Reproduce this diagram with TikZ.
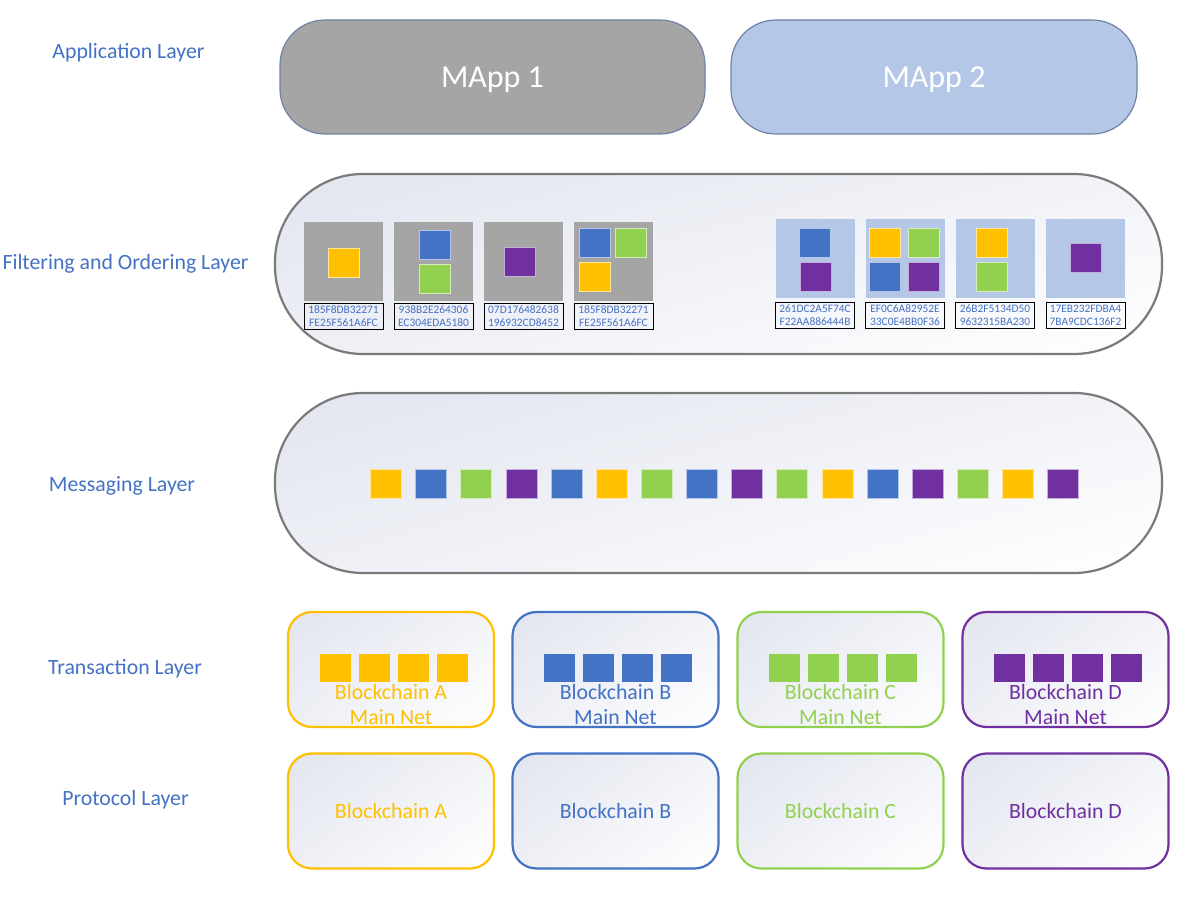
\documentclass[tikz,border=0pt]{standalone}
\usepackage{fontspec}
\setmainfont{Carlito}
\usetikzlibrary{shadings}
\definecolor{orng}{HTML}{FFC000}
\definecolor{blu}{HTML}{4472C4}
\definecolor{grn}{HTML}{92D050}
\definecolor{purp}{HTML}{7030A0}
\definecolor{gbox}{HTML}{A5A5A5}
\definecolor{lbox}{HTML}{B4C7E7}
\definecolor{pillc}{HTML}{7A7A7A}
\definecolor{mappc}{HTML}{7083A6}
\definecolor{shadec}{HTML}{E2E5EF}
\definecolor{lbl}{HTML}{4472C4}
\tikzset{
  layerlabel/.style={text=lbl, font=\fontsize{21.8}{26}\selectfont, inner sep=0pt},
  mapp/.style={draw=mappc, line width=1.2pt, rounded corners=45pt, minimum width=425pt, minimum height=114pt, text=white, font=\fontsize{32}{36}\selectfont, text height=21pt, text depth=0pt},
  softshade/.style={upper left=shadec, lower left=shadec!60!white, upper right=shadec!45!white, lower right=white},
  pill/.style={draw=pillc, line width=2.2pt, rounded corners=88pt, softshade},
  chainbox/.style={line width=2.2pt, rounded corners=24pt, minimum width=206pt, minimum height=115pt, softshade},
  fbox/.style={minimum width=79pt, minimum height=79pt, inner sep=0pt},
  sq/.style={minimum width=31pt, minimum height=29pt, inner sep=0pt, draw=white!60!#1, line width=0.6pt, fill=#1},
  tsq/.style={minimum width=31pt, minimum height=28pt, inner sep=0pt, fill=#1},
  hashbox/.style={draw=black, line width=0.9pt, minimum width=79pt, minimum height=26pt, inner sep=0pt, text=blu, align=center, font=\fontsize{11.4}{13}\selectfont},
  chaintext/.style={text=#1, align=center, font=\fontsize{21.8}{25}\selectfont, inner sep=0pt}
}
\begin{document}
\begin{tikzpicture}[x=1pt,y=-1pt]
\useasboundingbox[fill=white] (0,0) rectangle (1200,901);
% left labels
\node[layerlabel] (lapp) at (128.5,52.5) {Application Layer};
\node[layerlabel] (lfil) at (125.5,263.5) {Filtering and Ordering Layer};
\node[layerlabel] (lmsg) at (122,485.5) {Messaging Layer};
\node[layerlabel] (ltx) at (125,668.5) {Transaction Layer};
\node[layerlabel] (lpro) at (125.5,799.5) {Protocol Layer};
% application layer
\node[mapp, fill=gbox] (mapp1) at (492.5,77) {MApp 1};
\node[mapp, fill=lbox, minimum width=406pt] (mapp2) at (934,77) {MApp 2};
% filtering layer
\path[pill] (275,174) rectangle (1162,354);
\node[fbox, fill=gbox] (f1) at (343.5,262) {};
\node[fbox, fill=gbox] (f2) at (433.5,262) {};
\node[fbox, fill=gbox] (f3) at (523.5,262) {};
\node[fbox, fill=gbox] (f4) at (613.5,262) {};
\node[fbox, fill=lbox] (f5) at (815,258.5) {};
\node[fbox, fill=lbox] (f6) at (905,258.5) {};
\node[fbox, fill=lbox] (f7) at (995,258.5) {};
\node[fbox, fill=lbox] (f8) at (1085.5,258.5) {};
\node[sq=orng] (f1a) at (343.5,263) {};
\node[sq=blu] (f2a) at (434.5,245) {};
\node[sq=grn] (f2b) at (434.5,278.5) {};
\node[sq=purp] (f3a) at (520,262) {};
\node[sq=blu] (f4a) at (595,242.5) {};
\node[sq=grn] (f4b) at (631,242.5) {};
\node[sq=orng] (f4c) at (595,276.5) {};
\node[sq=blu] (f5a) at (815,243) {};
\node[sq=purp] (f5b) at (815.5,277) {};
\node[sq=orng] (f6a) at (884.5,243) {};
\node[sq=grn] (f6b) at (923.5,243) {};
\node[sq=blu] (f6c) at (884.5,277) {};
\node[sq=purp] (f6d) at (923.5,277) {};
\node[sq=orng] (f7a) at (992,243) {};
\node[sq=grn] (f7b) at (992,277) {};
\node[sq=purp] (f8a) at (1085.5,258) {};
\node[hashbox] (h1) at (343.5,316) {185F8DB32271\\FE25F561A6FC};
\node[hashbox] (h2) at (433.5,316) {938B2E264306\\EC304EDA5180};
\node[hashbox] (h3) at (523.5,316) {07D176482638\\196932CD8452};
\node[hashbox] (h4) at (613.5,316) {185F8DB32271\\FE25F561A6FC};
\node[hashbox] (h5) at (815,315.5) {261DC2A5F74C\\F22AA886444B};
\node[hashbox] (h6) at (905,315.5) {EF0C6A82952E\\33C0E4BB0F36};
\node[hashbox] (h7) at (995,315.5) {26B2F5134D50\\9632315BA230};
\node[hashbox] (h8) at (1085.5,315.5) {17EB232FDBA4\\7BA9CDC136F2};
% messaging layer
\path[pill] (275,393) rectangle (1162,573);
\foreach \c [count=\i from 0] in {orng,blu,grn,purp,blu,orng,grn,blu,purp,grn,orng,blu,purp,grn,orng,purp}{
  \node[sq=\c] (m\i) at ({386+45.13*\i},484) {};
}
% transaction and protocol layers
\foreach \c/\l/\x in {orng/A/391, blu/B/615.5, grn/C/840.5, purp/D/1065.5}{
  \node[chainbox, draw=\c] (t\l) at (\x,669.5) {};
  \foreach \k in {0,1,2,3}{
    \node[tsq=\c] (t\l\k) at ({\x+2.5-58.5+39*\k},668) {};
  }
  \node[chaintext=\c] (tt\l) at (\x,705) {Blockchain \l\\Main Net};
  \node[chainbox, draw=\c] (p\l) at (\x,811) {};
  \node[chaintext=\c] (pt\l) at (\x,811) {Blockchain \l};
}
\end{tikzpicture}
\end{document}
